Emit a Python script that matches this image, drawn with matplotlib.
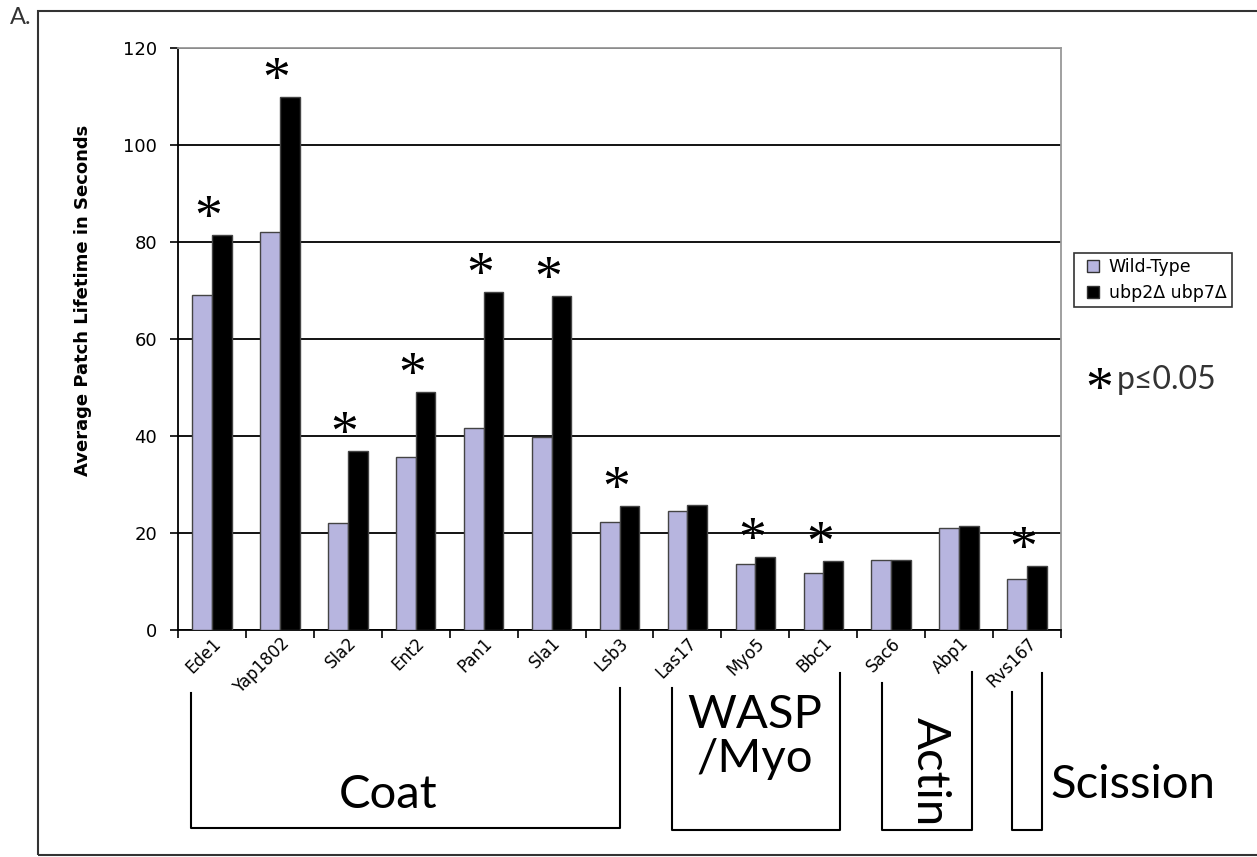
import numpy as np
import matplotlib.pyplot as plt
from matplotlib.lines import Line2D
from matplotlib.patches import Rectangle

proteins = ["Ede1", "Yap1802", "Sla2", "Ent2", "Pan1", "Sla1", "Lsb3",
            "Las17", "Myo5", "Bbc1", "Sac6", "Abp1", "Rvs167"]
wild_type = [69, 82, 22.1, 35.7, 41.6, 39.8, 22.3, 24.5, 13.6, 11.8, 14.4, 21.0, 10.5]
ubp_mut = [81.4, 110, 36.9, 49, 69.7, 68.9, 25.6, 25.8, 15.0, 14.2, 14.4, 21.4, 13.2]
signif = [1, 1, 1, 1, 1, 1, 1, 0, 1, 1, 0, 0, 1]
yticks = [0, 20, 40, 60, 80, 100, 120]

W, H = 1257, 857
fig = plt.figure(figsize=(W / 100, H / 100), dpi=100)


def fx(px):
    return px / W


def fy(py):
    return 1 - py / H


ax = fig.add_axes([fx(178), fy(630), fx(1061) - fx(178), fy(48) - fy(630)])

x = np.arange(len(proteins))
bw = 0.29
wt_col = "#b7b5df"
ax.bar(x - bw / 2, wild_type, bw, color=wt_col, edgecolor="#444444",
       linewidth=1, zorder=3)
ax.bar(x + bw / 2, ubp_mut, bw, color="black", edgecolor="#444444",
       linewidth=1, zorder=3)

# significance stars
for i in range(len(proteins)):
    if signif[i]:
        ax.annotate("*", (x[i] - 0.05, ubp_mut[i]), xytext=(0, -8),
                    textcoords="offset points", ha="center", va="bottom",
                    fontsize=40, family="Liberation Serif", zorder=4)

ax.set_xlim(-0.5, len(proteins) - 0.5)
ax.set_ylim(0, 120)
ax.set_yticks(yticks)
ax.yaxis.grid(True, color="black", linewidth=1.3, zorder=0)
ax.tick_params(axis="y", labelsize=13, length=6, width=1.2, pad=9)
ax.set_xticks(x)
ax.set_xticklabels(proteins, rotation=45, ha="right", rotation_mode="anchor",
                   fontsize=12)
ax.tick_params(axis="x", which="major", length=0, pad=3)
ax.set_xticks(np.arange(len(proteins) + 1) - 0.5, minor=True)
ax.tick_params(axis="x", which="minor", length=6, width=1.2)
for s in ["left", "bottom"]:
    ax.spines[s].set_color("black")
    ax.spines[s].set_linewidth(1.3)
for s in ["top", "right"]:
    ax.spines[s].set_color("#999999")
    ax.spines[s].set_linewidth(1.3)
ax.set_ylabel("Average Patch Lifetime in Seconds", fontsize=13,
              fontweight="bold", va="center")
ax.yaxis.set_label_coords(-0.108, 0.567)

handles = [Line2D([], [], marker="s", ls="none", markersize=8,
                  markerfacecolor=wt_col, markeredgecolor="#333333"),
           Line2D([], [], marker="s", ls="none", markersize=8,
                  markerfacecolor="black", markeredgecolor="#333333")]
leg = fig.legend(handles, ["Wild-Type", "ubp2Δ ubp7Δ"], loc="upper left",
                 bbox_to_anchor=(fx(1074), fy(253)), fontsize=12.5,
                 frameon=True, fancybox=False, handlelength=1.6,
                 handletextpad=0.1, borderpad=0.3, labelspacing=0.45,
                 borderaxespad=0, edgecolor="black")
leg.get_frame().set_linewidth(1.2)

fig.text(fx(1099), fy(392), "*", fontsize=40, family="Liberation Serif",
         ha="center", va="center")
fig.text(fx(1117), fy(380), "p≤0.05", fontsize=23, family="Lato",
         color="#333333", ha="left", va="center")

# outer frame and panel label
fig.patches.append(Rectangle((fx(38), fy(855)), fx(1300) - fx(38),
                             fy(11) - fy(855), transform=fig.transFigure,
                             fill=False, edgecolor="#333333", linewidth=1.5))
fig.text(fx(10), fy(17), "A.", fontsize=17, family="Lato", color="#333333",
         ha="left", va="center")


def bracket(x0, x1, y0l, y0r, yb):
    fig.add_artist(Line2D([fx(x0), fx(x0), fx(x1), fx(x1)],
                          [fy(y0l), fy(yb), fy(yb), fy(y0r)],
                          color="black", linewidth=1.5))


bracket(191, 620, 693, 688, 828)
bracket(672, 840, 688, 673, 830)
bracket(882, 972, 683, 672, 830)
bracket(1012, 1042, 692, 673, 830)

gfont = dict(family="Lato", fontsize=34)
fig.text(fx(388), fy(795), "Coat", ha="center", va="center", **gfont)
fig.text(fx(755), fy(737), "WASP\n/Myo", ha="center", va="center",
         linespacing=1.05, **gfont)
fig.text(fx(930), fy(772), "Actin", ha="center", va="center", rotation=-90,
         **gfont)
fig.text(fx(1050), fy(785), "Scission", ha="left", va="center", **gfont)

fig.savefig("out.png", dpi=100)
